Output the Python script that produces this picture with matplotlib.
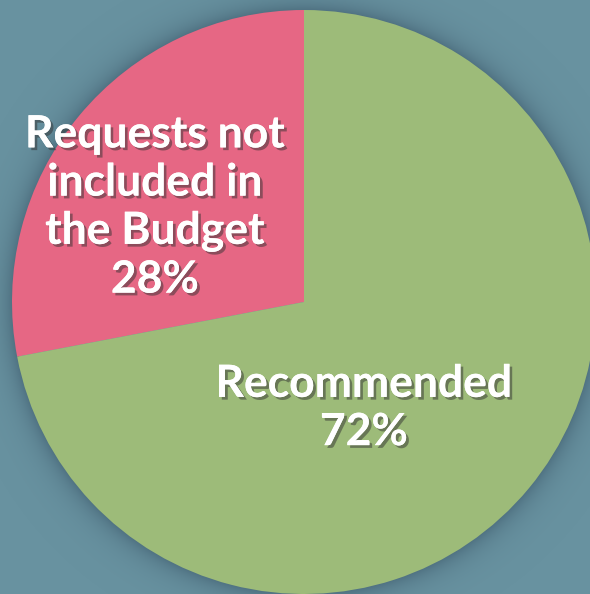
import numpy as np
import matplotlib.pyplot as plt
import matplotlib.patheffects as pe

# Budget split
categories = ['Requests not\nincluded in\nthe Budget', 'Recommended']
shares = [28, 72]
colors = ['#e66784', '#9dbb79']

bg = '#6892a0'
W, H = 590, 594
cx, cy, R = 304, 292, 292

fig = plt.figure(figsize=(W / 100, H / 100), dpi=100, facecolor=bg)
ax = fig.add_axes([0, 0, 1, 1])
ax.set_facecolor(bg)

# soft dark glow around the pie
yy, xx = np.mgrid[0:H, 0:W] + 0.5
d = np.hypot(xx - cx, yy - cy) - R
alpha = np.where(d > -2, 0.55 * np.exp(-np.clip(d, 0, None) / 12.0), 0)
shadow = np.zeros((H, W, 4))
shadow[..., :3] = np.array([0.24, 0.35, 0.42])
shadow[..., 3] = alpha
ax.imshow(shadow, extent=(0, W, 0, H), origin='lower', zorder=0)

wedges, _ = ax.pie(shares, colors=colors, startangle=90, counterclock=True,
                   center=(cx, cy), radius=R, frame=True,
                   wedgeprops=dict(linewidth=0))
ax.set_xlim(0, W)
ax.set_ylim(0, H)
ax.set_aspect('equal')
ax.axis('off')

shadow_fx = [pe.withSimplePatchShadow(offset=(2, -2), shadow_rgbFace='#333333', alpha=0.5),
             pe.Normal()]
label_pos = [(155, 594 - 207), (364, 594 - 408)]
for name, val, (x, y) in zip(categories, shares, label_pos):
    ax.text(x, y, f'{name}\n{val}%', ha='center', va='center', color='white',
            fontsize=32, fontweight='bold', family='Lato', linespacing=1.25,
            path_effects=shadow_fx)

fig.savefig('out.png', dpi=100, facecolor=bg)
